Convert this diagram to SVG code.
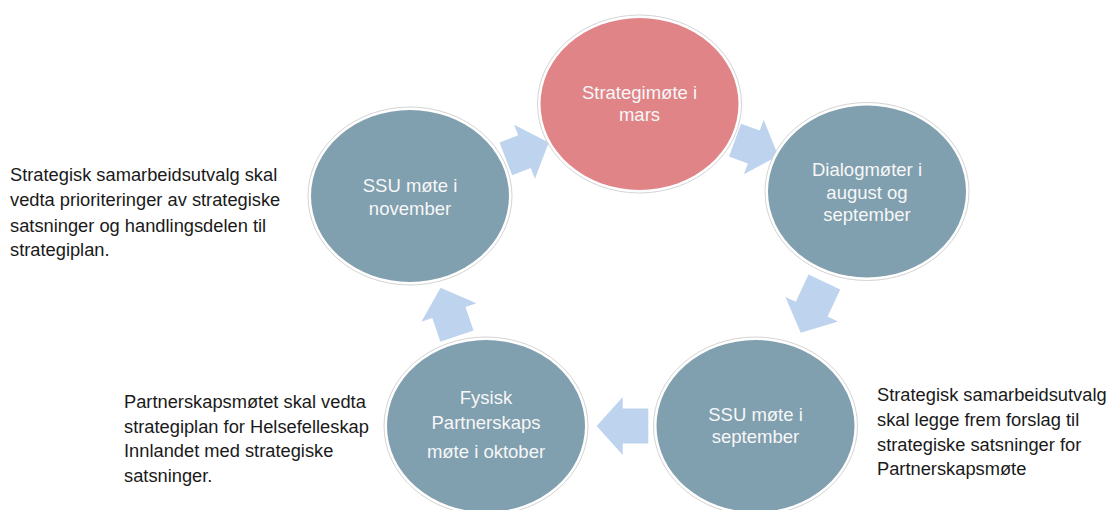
<svg xmlns="http://www.w3.org/2000/svg" width="1114" height="510" viewBox="0 0 1114 510">
<style>
.arrow{fill:#BDD3EE}
.ring{fill:#ffffff;stroke:#d4d4d4;stroke-width:1}
.blue{fill:#809FAF}
.pink{fill:#E08487}
.ct{font-family:"Liberation Sans",Arial,sans-serif;font-size:18.5px;fill:#F7F7F7;text-anchor:middle}
.st{font-family:"Liberation Sans",Arial,sans-serif;font-size:18.3px;fill:#1a1a1a}
</style>
<rect width="1114" height="510" fill="#ffffff"/>
<g id="connectors">
  <polygon class="arrow" transform="translate(622.7,426) rotate(180)" points="26,0 0,-29 0,-17.5 -25.6,-17.5 -25.6,17.5 0,17.5 0,29"/>
  <polygon class="arrow" transform="translate(448.9,312.5) rotate(-108.7)" points="26,0 0,-29 0,-17.5 -25,-17.5 -25,17.5 0,17.5 0,29"/>
  <polygon class="arrow" transform="translate(811.7,309.2) rotate(115)" points="26,0 0,-29 0,-17.5 -30,-17.5 -30,17.5 0,17.5 0,29"/>
  <polygon class="arrow" transform="translate(524.5,151.7) rotate(-21)" points="26,0 0,-29 0,-17.5 -20,-17.5 -20,17.5 0,17.5 0,29"/>
  <polygon class="arrow" transform="translate(753.8,147) rotate(20)" points="26,0 0,-29 0,-17.5 -20,-17.5 -20,17.5 0,17.5 0,29"/>
</g>
<g id="node-strategimote">
  <ellipse class="ring" cx="639.5" cy="104" rx="102" ry="89"/>
  <ellipse class="pink" cx="639.5" cy="104" rx="99" ry="86"/>
  <text class="ct" x="639.5" y="99">Strategimøte i</text>
  <text class="ct" x="639.5" y="121">mars</text>
</g>
<g id="node-dialogmoter">
  <ellipse class="ring" cx="867" cy="191.5" rx="102" ry="89"/>
  <ellipse class="blue" cx="867" cy="191.5" rx="99" ry="86"/>
  <text class="ct" x="867" y="176">Dialogmøter i</text>
  <text class="ct" x="867" y="199">august og</text>
  <text class="ct" x="867" y="221">september</text>
</g>
<g id="node-ssu-september">
  <ellipse class="ring" cx="755.5" cy="426" rx="102" ry="89"/>
  <ellipse class="blue" cx="755.5" cy="426" rx="99" ry="86"/>
  <text class="ct" x="755.5" y="421">SSU møte i</text>
  <text class="ct" x="755.5" y="443">september</text>
</g>
<g id="node-fysisk">
  <ellipse class="ring" cx="486" cy="426" rx="102" ry="89"/>
  <ellipse class="blue" cx="486" cy="426" rx="99" ry="86"/>
  <text class="ct" x="486" y="404">Fysisk</text>
  <text class="ct" x="486" y="429">Partnerskaps</text>
  <text class="ct" x="486" y="458">møte i oktober</text>
</g>
<g id="node-ssu-november">
  <ellipse class="ring" cx="410" cy="196" rx="102" ry="89"/>
  <ellipse class="blue" cx="410" cy="196" rx="99" ry="86"/>
  <text class="ct" x="410" y="192">SSU møte i</text>
  <text class="ct" x="410" y="215">november</text>
</g>
<g id="note-november">
  <text class="st" x="10" y="181">Strategisk samarbeidsutvalg skal</text>
  <text class="st" x="10" y="206">vedta prioriteringer av strategiske</text>
  <text class="st" x="10" y="232">satsninger og handlingsdelen til</text>
  <text class="st" x="10" y="256">strategiplan.</text>
</g>
<g id="note-oktober">
  <text class="st" x="124" y="408">Partnerskapsmøtet skal vedta</text>
  <text class="st" x="124" y="433">strategiplan for Helsefelleskap</text>
  <text class="st" x="124" y="457">Innlandet med strategiske</text>
  <text class="st" x="124" y="482">satsninger.</text>
</g>
<g id="note-september">
  <text class="st" x="877" y="401">Strategisk samarbeidsutvalg</text>
  <text class="st" x="877" y="426">skal legge frem forslag til</text>
  <text class="st" x="877" y="451">strategiske satsninger for</text>
  <text class="st" x="877" y="475">Partnerskapsmøte</text>
</g>
</svg>
